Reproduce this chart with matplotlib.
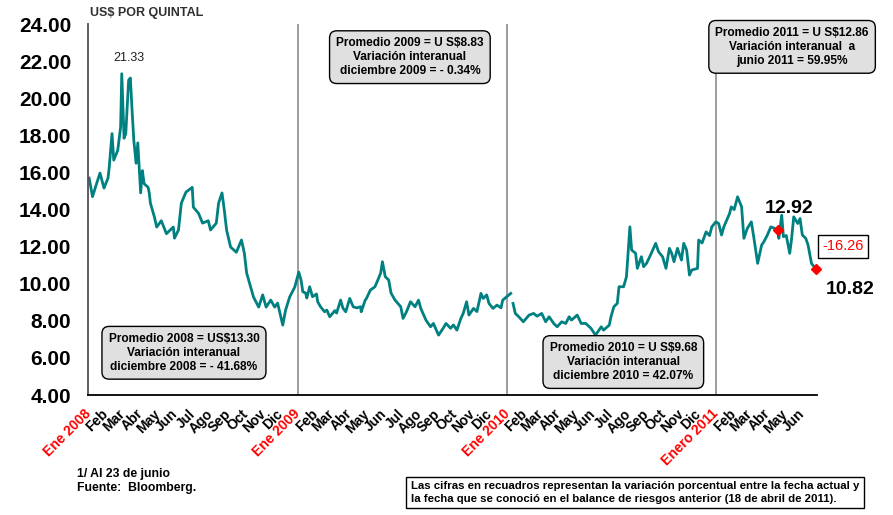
import pandas as pd
import matplotlib
matplotlib.use("Agg")
from matplotlib import pyplot as plt

plt.rcParams['font.family'] = ['Liberation Sans', 'DejaVu Sans']

# Precio (US$ por quintal), lectura aproximada del grafico
dates_2008 = ['2008-01-02', '2008-01-08', '2008-01-14', '2008-01-21', '2008-01-28', '2008-02-04',
              '2008-02-06', '2008-02-11', '2008-02-14', '2008-02-21', '2008-02-26', '2008-02-28',
              '2008-03-03', '2008-03-06', '2008-03-11', '2008-03-14', '2008-03-17', '2008-03-20',
              '2008-03-24', '2008-03-27', '2008-04-01', '2008-04-04', '2008-04-07', '2008-04-14',
              '2008-04-16', '2008-04-18', '2008-04-25', '2008-04-29', '2008-05-07', '2008-05-16',
              '2008-05-28', '2008-05-30', '2008-06-06', '2008-06-11', '2008-06-19', '2008-06-30',
              '2008-07-02', '2008-07-11', '2008-07-18', '2008-07-28', '2008-08-01', '2008-08-11',
              '2008-08-15', '2008-08-21', '2008-08-25', '2008-08-29', '2008-09-05', '2008-09-15',
              '2008-09-24', '2008-09-29', '2008-10-03', '2008-10-10', '2008-10-15', '2008-10-24',
              '2008-10-31', '2008-11-06', '2008-11-14', '2008-11-21', '2008-11-26', '2008-12-05',
              '2008-12-10', '2008-12-17', '2008-12-26']
prices_2008 = [15.7, 14.7, 15.3, 15.97, 15.16, 15.7,
               16.24, 18.1, 16.67, 17.2, 18.45, 21.33,
               17.85, 18.1, 20.98, 21.1, 19.36, 17.75,
               16.5, 17.6, 14.9, 16.1, 15.4, 15.2,
               14.9, 14.35, 13.6, 13.06, 13.4, 12.7,
               13.06, 12.46, 12.9, 14.35, 14.94, 15.2,
               14.13, 13.8, 13.27, 13.4, 12.9, 13.27,
               14.35, 14.9, 13.97, 12.9, 11.98, 11.7,
               12.36, 11.65, 10.58, 9.82, 9.28, 8.74,
               9.4, 8.74, 9.12, 8.74, 8.96, 7.77,
               8.58, 9.28, 9.82]

dates_2009 = ['2009-01-02', '2009-01-06', '2009-01-09', '2009-01-14', '2009-01-16', '2009-01-21',
              '2009-01-26', '2009-02-02', '2009-02-04', '2009-02-09', '2009-02-16', '2009-02-20',
              '2009-02-25', '2009-03-06', '2009-03-09', '2009-03-16', '2009-03-20', '2009-03-25',
              '2009-04-01', '2009-04-07', '2009-04-13', '2009-04-20', '2009-04-21', '2009-04-28',
              '2009-04-30', '2009-05-07', '2009-05-15', '2009-05-20', '2009-05-25', '2009-05-28',
              '2009-06-02', '2009-06-08', '2009-06-12', '2009-06-19', '2009-06-29', '2009-07-03',
              '2009-07-09', '2009-07-16', '2009-07-24', '2009-07-30', '2009-08-03', '2009-08-12',
              '2009-08-20', '2009-08-25', '2009-09-03', '2009-09-11', '2009-09-16', '2009-09-24',
              '2009-09-29', '2009-10-05', '2009-10-12', '2009-10-16', '2009-10-22', '2009-10-26',
              '2009-11-03', '2009-11-09', '2009-11-16', '2009-11-20', '2009-11-26', '2009-11-30',
              '2009-12-07', '2009-12-14', '2009-12-21', '2009-12-24', '2009-12-31', '2010-01-07']
prices_2009 = [10.63, 10.2, 9.57, 9.5, 9.23, 9.84,
               9.3, 9.45, 9.03, 8.76, 8.49, 8.58,
               8.22, 8.55, 8.42, 9.12, 8.69, 8.49,
               9.21, 8.76, 8.7, 8.76, 8.49, 9.12,
               9.2, 9.66, 9.84, 10.2, 10.58, 11.19,
               10.38, 10.2, 9.5, 9.12, 8.76, 8.13,
               8.49, 9.03, 8.76, 9.12, 8.67, 8.04,
               7.68, 7.86, 7.23, 7.6, 7.86, 7.6,
               7.78, 7.5, 8.13, 8.4, 9.03, 8.31,
               8.67, 8.5, 9.48, 9.21, 9.4, 8.94,
               8.67, 8.85, 8.7, 9.12, 9.3, 9.48]

dates_2010 = ['2010-01-11', '2010-01-15', '2010-01-21', '2010-01-29', '2010-02-08', '2010-02-16',
              '2010-02-22', '2010-03-02', '2010-03-09', '2010-03-15', '2010-03-23', '2010-03-29',
              '2010-04-06', '2010-04-13', '2010-04-19', '2010-04-23', '2010-05-03', '2010-05-10',
              '2010-05-18', '2010-05-27', '2010-06-04', '2010-06-14', '2010-06-18', '2010-06-28',
              '2010-07-01', '2010-07-06', '2010-07-12', '2010-07-15', '2010-07-23', '2010-07-28',
              '2010-08-03', '2010-08-06', '2010-08-13', '2010-08-16', '2010-08-23', '2010-08-27',
              '2010-09-01', '2010-09-08', '2010-09-17', '2010-09-22', '2010-09-29', '2010-10-05',
              '2010-10-11', '2010-10-15', '2010-10-19', '2010-10-25', '2010-11-01', '2010-11-05',
              '2010-11-10', '2010-11-15', '2010-11-19', '2010-11-29', '2010-12-01', '2010-12-07',
              '2010-12-14', '2010-12-20', '2010-12-24', '2010-12-31']
prices_2010 = [8.94, 8.4, 8.22, 7.95, 8.31, 8.4,
               8.25, 8.4, 7.95, 8.22, 7.86, 7.68,
               7.95, 7.86, 8.22, 8.04, 8.31, 7.86,
               7.86, 7.6, 7.23, 7.68, 7.5, 7.77,
               8.22, 8.76, 8.94, 9.84, 9.84, 10.38,
               13.07, 11.82, 11.64, 10.83, 11.46, 10.92,
               11.1, 11.55, 12.18, 11.73, 11.46, 10.83,
               11.91, 11.64, 11.19, 11.91, 11.28, 12.18,
               11.82, 10.47, 10.74, 10.83, 12.36, 12.2,
               12.8, 12.6, 13.07, 13.34]

dates_2011 = ['2011-01-05', '2011-01-10', '2011-01-14', '2011-01-24', '2011-01-27', '2011-02-01',
              '2011-02-07', '2011-02-14', '2011-02-18', '2011-02-24', '2011-03-03', '2011-03-08',
              '2011-03-14', '2011-03-21', '2011-03-25', '2011-03-31', '2011-04-06', '2011-04-18',
              '2011-04-20', '2011-04-25', '2011-04-28', '2011-05-03', '2011-05-09', '2011-05-12',
              '2011-05-16', '2011-05-23', '2011-05-27', '2011-05-31', '2011-06-06', '2011-06-10',
              '2011-06-16', '2011-06-23']
prices_2011 = [13.25, 12.63, 13.07, 13.79, 14.15, 14.0,
               14.69, 14.15, 12.45, 12.99, 13.34, 12.36,
               11.1, 12.09, 12.27, 12.63, 13.07, 12.92,
               12.45, 13.7, 12.54, 12.6, 11.64, 12.36,
               13.61, 13.25, 13.52, 12.63, 12.45, 12.09,
               11.1, 10.82]

marked_dates = ['2011-04-18', '2011-06-23']
marked_prices = [12.92, 10.82]

month_labels = ['Ene', 'Feb', 'Mar', 'Abr', 'May', 'Jun', 'Jul', 'Ago', 'Sep', 'Oct', 'Nov', 'Dic']
year_labels = {2008: 'Ene 2008', 2009: 'Ene 2009', 2010: 'Ene 2010', 2011: 'Enero 2011'}

box_2008 = 'Promedio 2008 = US$13.30\nVariación interanual\ndiciembre 2008 = - 41.68%'
box_2009 = 'Promedio 2009 = U S$8.83\nVariación interanual\ndiciembre 2009 = - 0.34%'
box_2010 = 'Promedio 2010 = U S$9.68\nVariación interanual\ndiciembre 2010 = 42.07%'
box_2011 = 'Promedio 2011 = U S$12.86\nVariación interanual  a\njunio 2011 = 59.95%'

teal = '#008080'

fig = plt.figure(figsize=(8.93, 5.15), dpi=100)
ax = fig.add_axes([0.0985, 0.233, 0.816, 0.720])

# two pieces: the series restarts at the beginning of 2010
ax.plot(pd.to_datetime(dates_2008 + dates_2009), prices_2008 + prices_2009, color=teal, lw=2)
ax.plot(pd.to_datetime(dates_2010 + dates_2011), prices_2010 + prices_2011, color=teal, lw=2)
ax.plot(pd.to_datetime(marked_dates), marked_prices, ls='none', marker='D', ms=5.5, color='red',
        zorder=5, clip_on=False)

for yr in [2009, 2010, 2011]:
    ax.axvline(pd.Timestamp(f'{yr}-01-01'), color='#8c8c8c', lw=1.2, zorder=0)

ax.set_ylim(4, 24)
ax.set_yticks(range(4, 25, 2))
ax.set_yticklabels([f'{v:.2f}' for v in range(4, 25, 2)], fontsize=15, fontweight='bold')
ax.set_xlim(pd.Timestamp('2007-12-31'), pd.Timestamp('2011-06-25'))

ticks = pd.date_range('2008-01-01', '2011-06-01', freq='MS')
labels = [year_labels[t.year] if t.month == 1 else month_labels[t.month - 1] for t in ticks]
ax.set_xticks(ticks)
ax.set_xticklabels(labels, rotation=45, ha='right', va='center', rotation_mode='anchor',
                   fontsize=10, fontweight='bold')
for t, lab in zip(ticks, ax.get_xticklabels()):
    if t.month == 1:
        lab.set_color('red')
ax.tick_params(axis='y', length=0, pad=12)
ax.tick_params(axis='x', length=0, pad=12)

for s in ['top', 'right']:
    ax.spines[s].set_visible(False)
ax.spines['left'].set_color('#505050')
ax.spines['left'].set_linewidth(1.3)
ax.spines['bottom'].set_linewidth(1.3)

fig.text(0.101, 0.975, 'US$ POR QUINTAL', fontsize=9, fontweight='bold', color='#303030', va='center')
ax.annotate('21.33', (pd.Timestamp('2008-02-28'), 21.33), xytext=(5, 9), textcoords='offset points',
            ha='center', fontsize=9, color='#202020')
ax.annotate('12.92', (pd.Timestamp('2011-04-18'), 12.92), xytext=(8, 12), textcoords='offset points',
            ha='center', fontsize=14, fontweight='bold')
ax.annotate('10.82', (pd.Timestamp('2011-06-23'), 10.82), xytext=(25, -18), textcoords='offset points',
            ha='center', fontsize=14, fontweight='bold')
fig.text(0.944, 0.522, '-16.26', fontsize=10.5, color='red', ha='center', va='center',
         bbox=dict(boxstyle='square,pad=0.3', fc='white', ec='black', lw=1))

gray_box = dict(boxstyle='round,pad=0.55,rounding_size=0.6', fc='#e0e0e0', ec='black', lw=1)
for x, y, txt in [(0.206, 0.315, box_2008), (0.459, 0.889, box_2009),
                  (0.698, 0.297, box_2010), (0.887, 0.909, box_2011)]:
    fig.text(x, y, txt, fontsize=8.6, fontweight='bold', ha='center', va='center',
             linespacing=1.2, bbox=gray_box, zorder=6)

fig.text(0.086, 0.066, '1/ Al 23 de junio\nFuente:  Bloomberg.', fontsize=8.8, fontweight='bold',
         va='center', linespacing=1.3)
fig.text(0.460, 0.044, 'Las cifras en recuadros representan la variación porcentual entre la fecha actual y\n'
         'la fecha que se conoció en el balance de riesgos anterior (18 de abril de 2011).',
         fontsize=8.2, fontweight='bold', va='center', linespacing=1.3,
         bbox=dict(boxstyle='square,pad=0.4', fc='white', ec='black', lw=1))

fig.savefig('out.png', dpi=100)
